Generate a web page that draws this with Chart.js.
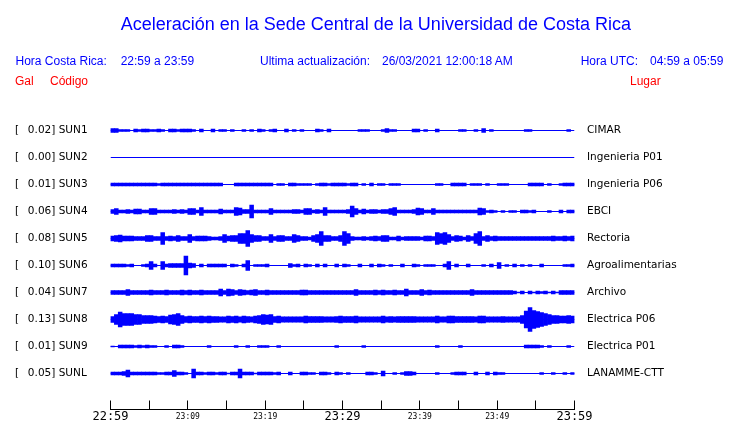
<!DOCTYPE html>
<html><head><meta charset="utf-8">
<script src="https://cdn.jsdelivr.net/npm/chart.js@4.4.0/dist/chart.umd.min.js"></script>
<style>
html,body{margin:0;padding:0;background:#fff;}
#wrap{position:relative;width:740px;height:423px;overflow:hidden;background:#fff;}
canvas{position:absolute;left:0;top:0;}
.t{position:absolute;white-space:pre;font-family:"Liberation Sans",Arial,sans-serif;}
.h{font-size:12px;line-height:12px;top:54.8px;color:#0000ff;}
.r{font-size:12px;line-height:12px;top:74.8px;color:#ff0000;}
#title{font-size:18px;line-height:18px;top:14.8px;left:120.7px;color:#0000ff;}
</style></head>
<body><div id="wrap">
<canvas id="c" width="740" height="423"></canvas>
<div class="t" id="title">Aceleración en la Sede Central de la Universidad de Costa Rica</div>
<div class="t h" style="left:15.5px">Hora Costa Rica:</div>
<div class="t h" style="left:120.7px">22:59 a 23:59</div>
<div class="t h" style="left:260px">Ultima actualización:</div>
<div class="t h" style="left:382px">26/03/2021 12:00:18 AM</div>
<div class="t h" style="left:580.7px">Hora UTC:</div>
<div class="t h" style="left:650px">04:59 a 05:59</div>
<div class="t r" style="left:15px">Gal</div>
<div class="t r" style="left:50px">Código</div>
<div class="t r" style="left:630px">Lugar</div>
</div>
<script>
// Station codes, peak values (gal) and places
const codes = ['SUN1','SUN2','SUN3','SUN4','SUN5','SUN6','SUN7','SUN8','SUN9','SUNL'];
const peaks = [0.02, 0.00, 0.01, 0.06, 0.08, 0.10, 0.04, 0.13, 0.01, 0.05];
const places = ['CIMAR','Ingenieria P01','Ingenieria P06','EBCI','Rectoria','Agroalimentarias','Archivo','Electrica P06','Electrica P01','LANAMME-CTT'];
// Time axis: minutes after 22:59, labelled every 10 minutes
const tickLabels = ['22:59','23:09','23:19','23:29','23:39','23:49','23:59'];
const bigLabels = ['22:59','23:29','23:59'];
// Trace envelopes: half-amplitude per 30-second bin (hundredths of a gal, display units)
const sun1 = [
2,2,1,1,1,0,1.5,1,1.5,1.5, 1,1,1.5,1,0,1.5,1.5,1,1.5,1.5,
1.5,1,0,1.5,0,0,1.5,0,1,1, 0,1,0,0,1,0,1,0,1.5,1,
0,1,1.5,0,0,1.5,0,1,0,1, 0,0,0,1.5,1,0,1.5,0,0,0,
0,0,0,0,1,1,1,0,0,0, 1,2,1,1,0,0,0,0,1.5,1.5,
0,1,0,0,1.5,0,0,0,0,0, 1,1,0,0,1,0,2,0,1,0,
0,0,0,0,0,0,0,1,1,0, 0,0,0,0,0,0,0,0,1,0];
const sun2 = [
0,0,0,0,0,0,0,0,0,0, 0,0,0,0,0,0,0,0,0,0,
0,0,0,0,0,0,0,0,0,0, 0,0,0,0,0,0,0,0,0,0,
0,0,0,0,0,0,0,0,0,0, 0,0,0,0,0,0,0,0,0,0,
0,0,0,0,0,0,0,0,0,0, 0,0,0,0,0,0,0,0,0,0,
0,0,0,0,0,0,0,0,0,0, 0,0,0,0,0,0,0,0,0,0,
0,0,0,0,0,0,0,0,0,0, 0,0,0,0,0,0,0,0,0,0];
const sun3 = [
1.5,1.5,1.5,1.5,1.5,1.5,1.5,1.5,1.5,1.5, 1.5,1.5,1,1.5,1.5,1.5,1.5,1.5,1.5,1.5,
1.5,1.5,1.5,1.5,1.5,1.5,1.5,1.5,1.5,0, 0,0,1.5,1.5,1.5,1.5,1.5,1.5,1.5,1.5,
1.5,1.5,0,1,1,0,1.5,1.5,1,1, 1,1,0,1,1.5,1.5,1,1.5,1.5,1.5,
1.5,1,1.5,1.5,0,1,0,1.5,0,1, 1,0,1,1,1,0,0,0,0,0,
0,0,0,0,1,1,0,0,1.5,1.5, 1.5,1.5,0,1,1,1,0,1,0,0,
1,1,1,0,0,0,0,0,1.5,1.5, 1.5,1.5,0,1,0,0,1,1.5,1.5,1.5];
const sun4 = [
2,3,1.5,1.5,2,1.5,2.5,2.5,1.5,1.5, 3,3,1.5,1.5,1.5,1.5,2,1.5,2,1.5,
3,3,1.5,4,1.5,1.5,1.5,1.5,2.5,1.5, 1.5,1.5,4,3.5,2,2,6.5,1.5,1.5,1.5,
1.5,3,1.5,1.5,1.5,1.5,1.5,2,2,1.5, 3,3,1.5,2,1.5,4,1.5,1.5,1.5,1.5,
1.5,2,5.5,3,1.5,2.5,1.5,2,2,1.5, 2,2,3,4,1.5,1.5,1.5,1.5,2,3.5,
3,1.5,1.5,3,1.5,1.5,1.5,1.5,1.5,1.5, 1.5,1.5,1.5,1.5,1.5,3.5,3,1,1.5,1,
0,1,0,1,1,0,1.5,1.5,1,1.5, 0,0,0,1,0,0,1.5,0,1.5,1.5];
const sun5 = [
2.5,3,3.5,2.5,2.5,2.5,2,2,2,3, 3,2,2,6,2,2.5,2,3,2,2,
4,2,2.5,2.5,2.5,2,1.5,1.5,2,4, 2.5,3,3,5,5,8,4,3,3,2,
2,4,2,3,3,2,2,4,3,2, 2,1.5,3,4,7,3,3,2,2,3,
7,5,2,1.5,1.5,2,1.5,2,2.5,2, 3,3,1.5,1.5,2.5,1.5,2,2,2,2,
1.5,2.5,2.5,2,6,5,6,4,2,3, 2.5,1.5,3,2,5,7,2,3,2,2.5,
2,2,2,2,2,2,2,2,2,2, 2,2,2,2,2.5,2,2,2.5,2,2.5];
const sun6 = [
1.5,1.5,1.5,1.5,1,1.5,0,0,1,1.5, 4,1.5,0,4,1.5,2,2,2,2,9.5,
2.5,2,0,1.5,0,1.5,1.5,1.5,1.5,1.5, 0,1.5,1,0,1.5,5,0,1,1,1,
1.5,0,0,0,0,0,2,1,1.5,0, 1.5,1,0,1.5,0,1.5,0,0,1.5,0,
1.5,1,0,0,1.5,0,0,1.5,0,1.5, 1,0,1,0,0,1.5,0,0,1.5,1,
0,1,1,1,0,0,1.5,4,0,1.5, 0,0,1.5,0,0,0,1,0,1.5,0,
3,0,1,0,1.5,0,1,0,1,0, 0,1.5,0,0,0,0,0,1,1,1.5];
const sun7 = [
2,2,2,2,3,2,2,2,2,2, 2.5,2,2,2,2.5,2,2,2,2.5,2,
2.5,2,2,2.5,2,2,2,2,3.5,2, 3.5,3,2,3,2.5,2,2.5,3,2,2,
2.5,2,2,2,2,2,2,2,2,2.5, 2.5,2,2,2,2,2,2,2,2,2,
2,2,2,3,2,2,2,2,2.5,2, 2.5,2,2,2.5,2,2,3.5,2,2,2,
3,2,2.5,2,2,2,2,2,2,2, 2,2,2,3,2,2,2,2,2,2,
2,2,2,2,1.5,0.5,1.5,0,1.5,0.5, 1.5,1,1.5,0.5,1.5,0.5,2,2,2,2];
const sun8 = [
3,5,7.5,6,6,6,5,5,4,4, 4,3.5,3,3.5,3,4.5,5,6,4,3,
3.5,3,3,3.5,3,3.5,3,3,2.7,2.7, 3.5,3,3.5,2.7,3.5,3,2.7,3.5,4,5,
4.5,5,3,3.5,2.7,2.7,2.7,2.7,2.7,2.7, 3.5,3,3,3,3,2.7,2.7,2.7,3,3.5,
3,3,3,3.5,2.7,2.7,2.7,2.7,2.7,2.7, 3.5,2.7,3,2.7,3,3,3,3,3,2.7,
2.7,2.7,2.7,2.7,3.5,2.7,2.7,3.5,3.5,3, 3,3,3,3,2.7,3.5,3.5,2.7,2.7,2.7,
2.7,3,2.7,2.7,2.7,2.7,4,8.5,12,9, 8,7,6,5,4,4,3.5,3.5,4,3.5];
const sun9 = [
0.5,0,1.5,1.5,1.5,1.5,1,1.5,1,1.5, 1,1,0,0,1,0,1.5,1.5,1,0,
0,0,0,0,0,1,0,0,0,0, 0,0,1,0,0,1,0,0,1,1,
1,0,0,1,0,0,0,0,0,0, 0,0,0,0,0,0,0,0,1,0,
0,0,0,0,0,1,0,0,0,0, 0,0,0,0,0,0,0,0,0,0,
0,0,0,0,1,0,0,0,0,0, 1,0,0,0,0,0,0,0,0,0,
0,0,0,0,0,0,0,1.5,1.5,1.5, 1.5,1,0,1,0,0,0,0,1,0];
const sunL = [
1.5,1.5,1.5,2,3.5,1.5,1.5,1.5,1.5,1.5, 1.5,1.5,1,1,1.5,1.5,3,1.5,1.5,1,
0,4.5,1.5,1.5,1,1.5,1.5,1,1.5,1.5, 0.5,1.5,1.5,4.5,1.5,1.5,1.5,0.5,1.5,1.5,
1.5,1.5,1,1.5,0,0,1.5,0,0,1.5, 1.5,1,1,0,1.5,1.5,1,0,1.5,1,
0,1,0,0,0,0,1.5,1.5,1,0, 2.5,0,0,1,0,1,2,2,1.5,0,
0,0,0,0,1,0,0,0,1,1.5, 1.5,1.5,0,0,1.5,0,0,1.5,0,1.5,
1,1,0,0,0,0,0,0,0,0, 0,1,0,0,1,0,0,1,0,1];
const envelopes = [sun1, sun2, sun3, sun4, sun5, sun6, sun7, sun8, sun9, sunL];

const BLUE = '#0000ff';
const BIN = 0.5;          // minutes per bin
const SPAN = 60;          // minutes shown
const ROW_PX = 27;        // display gain: one row = 27 amplitude units
const GAIN = 1 / ROW_PX;

const datasets = [];
envelopes.forEach((env, i) => {
  const r = i + 1;
  datasets.push({
    type: 'line', data: [{x: 0, y: r}, {x: SPAN, y: r}],
    borderColor: BLUE, borderWidth: 1, pointRadius: 0, yAxisID: 'y'
  });
  const bars = [];
  env.forEach((a, k) => { if (a > 0) bars.push({x: (k + 0.5) * BIN, y: [r - a * GAIN, r + a * GAIN]}); });
  datasets.push({
    type: 'bar', data: bars, backgroundColor: BLUE, borderWidth: 0,
    grouped: false, categoryPercentage: 1, barPercentage: 1, yAxisID: 'y'
  });
});

// Tick marks pointing up from the time axis
const tickMarks = {
  id: 'tickMarks',
  afterDraw(chart) {
    const s = chart.scales.x, ctx = chart.ctx;
    ctx.save();
    ctx.strokeStyle = '#000'; ctx.lineWidth = 1;
    ctx.beginPath();
    s.ticks.forEach(t => {
      const px = Math.floor(s.getPixelForValue(t.value)) + 0.5;
      ctx.moveTo(px, s.top); ctx.lineTo(px, s.top - 9);
    });
    ctx.stroke();
    ctx.restore();
  }
};

const yMax = (codes.length * ROW_PX + 36) / ROW_PX;
const rowTicks = s => { s.ticks = codes.map((c, i) => ({value: i + 1})); };

new Chart(document.getElementById('c'), {
  type: 'bar',
  data: {datasets},
  plugins: [tickMarks],
  options: {
    responsive: false, animation: false,
    layout: {padding: {left: 15, top: 103.5, right: 0, bottom: 0}},
    plugins: {legend: {display: false}, tooltip: {enabled: false}, title: {display: false}},
    scales: {
      x: {
        type: 'linear', min: 0, max: SPAN, offset: false, position: 'bottom',
        grid: {display: false, drawTicks: false, tickLength: 0},
        border: {display: true, color: '#000', width: 1},
        afterBuildTicks: s => { const t = []; for (let v = 0; v <= SPAN; v += 5) t.push({value: v}); s.ticks = t; },
        afterFit: s => { s.height = 13.5; },
        ticks: {
          autoSkip: false, maxRotation: 0, padding: 0, color: '#000',
          callback: v => (v % 10 === 0 ? tickLabels[v / 10] : ''),
          font: ctx => {
            const lab = ctx.tick && ctx.tick.value % 10 === 0 ? tickLabels[ctx.tick.value / 10] : '';
            return {family: 'DejaVu Sans Mono', size: bigLabels.includes(lab) ? 12 : 8, lineHeight: '14px'};
          }
        }
      },
      y: {
        type: 'linear', position: 'left', reverse: true, min: 0, max: yMax,
        grid: {display: false, drawTicks: false}, border: {display: false},
        afterBuildTicks: rowTicks,
        afterFit: s => { s.width = 95.5; },
        ticks: {
          crossAlign: 'far', padding: 0, color: '#000', autoSkip: false,
          font: {family: 'DejaVu Sans', size: 10.5},
          callback: (v, i) => '[  \u2009' + peaks[i].toFixed(2) + '] ' + codes[i]
        }
      },
      y2: {
        type: 'linear', position: 'right', reverse: true, min: 0, max: yMax,
        grid: {display: false, drawTicks: true, tickLength: 12.5}, border: {display: false},
        afterBuildTicks: rowTicks,
        afterFit: s => { s.width = 165.5; },
        ticks: {
          crossAlign: 'near', padding: 0, color: '#000', autoSkip: false,
          font: {family: 'DejaVu Sans', size: 10.5},
          callback: (v, i) => places[i]
        }
      }
    }
  }
});
</script>
</body></html>
